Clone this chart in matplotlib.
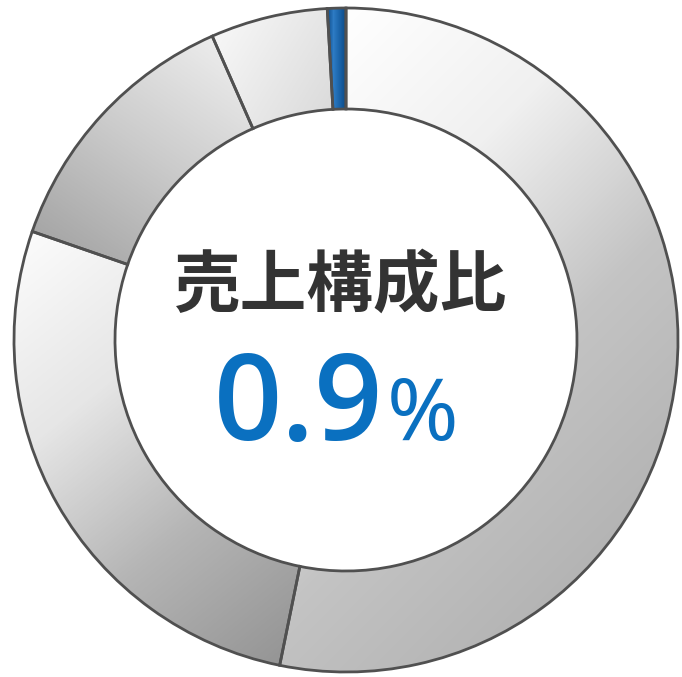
import numpy as np
import matplotlib
matplotlib.use("Agg")
import matplotlib.pyplot as plt
from matplotlib.colors import LinearSegmentedColormap

# Data (share of sales, %), clockwise from 12 o'clock
segments = ["A", "B", "C", "D", "Highlighted"]
shares = [53.2, 27.1, 13.1, 5.7, 0.9]
title_text = "売上構成比"
value_text = "0.9"
unit_text = "%"

W, H = 682, 677
fig = plt.figure(figsize=(W / 100, H / 100), dpi=100)
ax = fig.add_axes([0, 0, 1, 1])

cx, cy = 346, 337
R, ring = 332, 101

wedges, _ = ax.pie(shares, startangle=90, counterclock=False, center=(cx, cy),
                   radius=R, wedgeprops=dict(width=ring, edgecolor="#505050",
                                             linewidth=2.0),
                   colors=["none"] * len(shares))

# gradient specs: (direction vector (x, y-up), light->dark colours)
grad = [
    ((1.0, -1.0), ["#ffffff", "#f0f0f0", "#c4c4c4", "#b4b4b4"]),
    ((0.8, -1.0), ["#fbfbfb", "#e6e6e6", "#b5b5b5", "#959595"]),
    ((-0.7, -1.0), ["#ececec", "#cbcbcb", "#a6a6a6"]),
    ((1.0, -0.6), ["#f7f7f7", "#dcdcdc", "#b9b9b9"]),
    ((1.0, 0.0), ["#0c4a86", "#2d7bc4", "#1a63a8", "#0c4a86"]),
]

xs = np.linspace(0, W, W)
ys = np.linspace(0, H, H)
X, Y = np.meshgrid(xs, ys)
for w, (d, cols) in zip(wedges, grad):
    d = np.array(d) / np.hypot(*d)
    verts = w.get_path().vertices
    proj = verts @ d
    t = (X * d[0] + Y * d[1] - proj.min()) / (proj.max() - proj.min())
    t = np.clip(t, 0, 1)
    cmap = LinearSegmentedColormap.from_list("g", cols)
    im = ax.imshow(t, extent=(0, W, 0, H), origin="lower", cmap=cmap,
                   vmin=0, vmax=1, zorder=0.5, interpolation="bilinear")
    im.set_clip_path(w)
    w.set_zorder(1)

ax.text(341, H - 286, title_text, ha="center", va="center", fontsize=48,
        fontweight="bold", color="#333333", family=["Noto Sans CJK JP", "DejaVu Sans"])
ax.text(383, H - 440, value_text, ha="right", va="baseline", fontsize=86,
        fontweight=600, color="#0a70c0", family=["Open Sans", "DejaVu Sans"])
ax.text(387, H - 440, unit_text, ha="left", va="baseline", fontsize=62,
        color="#0a70c0", family=["Noto Sans", "DejaVu Sans"])

ax.set_xlim(0, W)
ax.set_ylim(0, H)
ax.set_aspect("equal")
ax.axis("off")
fig.savefig("out.png", dpi=100, facecolor="white")
